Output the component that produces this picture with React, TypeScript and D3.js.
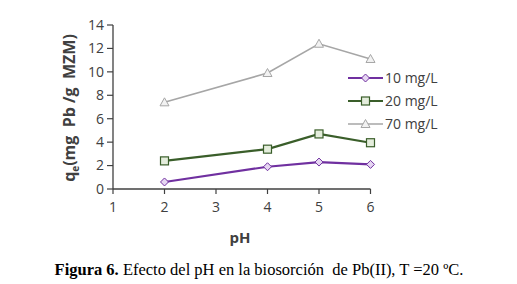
import React from "react";
import * as d3 from "d3";

const phValues = [2, 4, 5, 6];
const series10 = [0.6, 1.9, 2.3, 2.1];
const series20 = [2.4, 3.4, 4.7, 3.95];
const series70 = [7.4, 9.9, 12.4, 11.1];
const seriesNames = ["10 mg/L", "20 mg/L", "70 mg/L"];
const xTicks = [1, 2, 3, 4, 5, 6];
const yTicks = [0, 2, 4, 6, 8, 10, 12, 14];

const W = 517, H = 284;

export default function App() {
  const x = d3.scaleLinear().domain([1, 6]).range([113, 370.5]);
  const y = d3.scaleLinear().domain([0, 14]).range([189, 25]);
  const line = d3.line<number>().x((_, i) => x(phValues[i])).y((d) => y(d));
  const series = [
    { name: seriesNames[0], data: series10, color: "#7030a0", fill: "#e6d6f2", marker: "diamond", w: 2.2 },
    { name: seriesNames[1], data: series20, color: "#3a5e2a", fill: "#e4eddc", marker: "square", w: 2.2 },
    { name: seriesNames[2], data: series70, color: "#a6a6a6", fill: "#f2f2f2", marker: "triangle", w: 1.6 },
  ];
  const marker = (m: string, cx: number, cy: number, c: string, f: string) => {
    if (m === "diamond") {
      const r = 4;
      return <path d={`M${cx},${cy - r}L${cx + r},${cy}L${cx},${cy + r}L${cx - r},${cy}Z`} fill={f} stroke={c} strokeWidth={1} />;
    }
    if (m === "square") {
      return <rect x={cx - 4} y={cy - 4} width={8} height={8} fill={f} stroke={c} strokeWidth={1.2} />;
    }
    return <path d={`M${cx},${cy - 4.5}L${cx + 4.5},${cy + 3.5}L${cx - 4.5},${cy + 3.5}Z`} fill={f} stroke={c} strokeWidth={1} />;
  };
  const font = "'Open Sans', 'DejaVu Sans', sans-serif";
  return (
    <svg width={W} height={H} style={{ position: "absolute", left: 0, top: 0, background: "#fff" }}>
      <rect width={W} height={H} fill="#fff" />
      {/* axes */}
      <line x1={x(1)} x2={x(1)} y1={y(14)} y2={y(0)} stroke="#404040" strokeWidth={1.3} />
      <line x1={x(1)} x2={x(6)} y1={y(0)} y2={y(0)} stroke="#404040" strokeWidth={1.3} />
      {yTicks.map((t) => (
        <g key={"y" + t}>
          <line x1={x(1) - 6} x2={x(1)} y1={y(t)} y2={y(t)} stroke="#404040" strokeWidth={1.2} />
          <text x={x(1) - 9} y={y(t)} dy="0.35em" textAnchor="end" fontFamily={font} fontSize={14} fill="#404040">{t}</text>
        </g>
      ))}
      {xTicks.map((t) => (
        <g key={"x" + t}>
          <line x1={x(t)} x2={x(t)} y1={y(0)} y2={y(0) + 5} stroke="#404040" strokeWidth={1.2} />
          <text x={x(t)} y={y(0) + 23} textAnchor="middle" fontFamily={font} fontSize={14} fill="#404040">{t}</text>
        </g>
      ))}
      {/* series */}
      {series.map((s) => (
        <g key={s.name}>
          <path d={line(s.data) || ""} fill="none" stroke={s.color} strokeWidth={s.w} />
          {s.data.map((v, i) => <g key={i}>{marker(s.marker, x(phValues[i]), y(v), s.color, s.fill)}</g>)}
        </g>
      ))}
      {/* legend */}
      {series.map((s, i) => {
        const ly = 78 + i * 23;
        return (
          <g key={"l" + s.name}>
            <line x1={348} x2={383} y1={ly} y2={ly} stroke={s.color} strokeWidth={s.w} />
            {marker(s.marker, 365.5, ly, s.color, s.fill)}
            <text x={385} y={ly} dy="0.35em" fontFamily={font} fontSize={14} fill="#404040">{s.name}</text>
          </g>
        );
      })}
      {/* axis titles */}
      <text x={240} y={243} textAnchor="middle" fontFamily={font} fontSize={15} fontWeight="bold" fill="#404040">pH</text>
      <text transform={`translate(75,${y(7) + 1}) rotate(-90)`} textAnchor="middle" fontFamily={font} fontSize={16} fontWeight="bold" fill="#404040" style={{ whiteSpace: "pre" }}>
        q<tspan fontSize={10} dy={4}>e</tspan><tspan dy={-4}>{"(mg  Pb /g  MZM)"}</tspan>
      </text>
      {/* caption */}
      <text x={259} y={275} textAnchor="middle" fontFamily="'Liberation Serif', 'Times New Roman', serif" fontSize={16.5} fill="#000" style={{ whiteSpace: "pre" }}>
        <tspan fontWeight="bold">Figura 6.</tspan>{" Efecto del pH en la biosorción  de Pb(II), T =20 ºC."}
      </text>
    </svg>
  );
}
